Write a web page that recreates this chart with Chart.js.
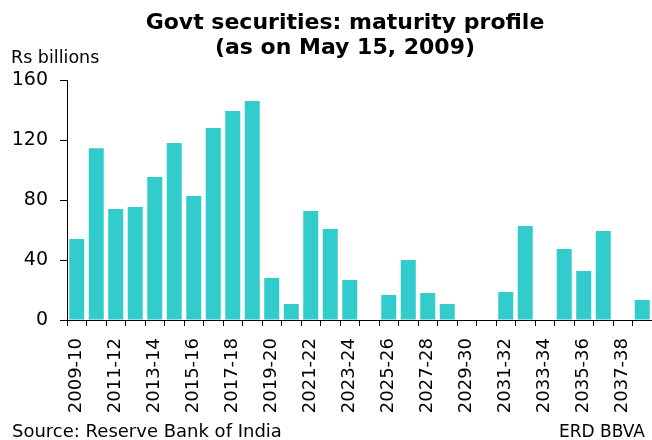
<!DOCTYPE html>
<html>
<head>
<meta charset="utf-8">
<script src="https://cdn.jsdelivr.net/npm/chart.js@4"></script>
<style>
html, body { margin: 0; padding: 0; background: #fff; }
</style>
</head>
<body>
<canvas id="maturityChart" width="652" height="440"></canvas>
<script>
const years = [
    "2009-10", "2010-11", "2011-12", "2012-13", "2013-14", "2014-15",
    "2015-16", "2016-17", "2017-18", "2018-19", "2019-20", "2020-21",
    "2021-22", "2022-23", "2023-24", "2024-25", "2025-26", "2026-27",
    "2027-28", "2028-29", "2029-30", "2030-31", "2031-32", "2032-33",
    "2033-34", "2034-35", "2035-36", "2036-37", "2037-38", "2038-39"
]
const amounts = [
    54, 114.5, 74, 75.3, 95.3, 118,
    82.7, 128, 139.3, 146, 28, 10.7,
    72.7, 60.7, 26.7, 0, 16.7, 40,
    18, 10.7, 0, 0, 18.7, 62.7,
    0, 47.3, 32.7, 59.3, 0, 13.3
]
const yTicks = [0, 40, 80, 120, 160]

const titleLines = ["Govt securities: maturity profile", "(as on May 15, 2009)"]
const unitLabel = "Rs billions"
const sourceText = "Source: Reserve Bank of India"
const creditText = "ERD BBVA"

const FONT = '"DejaVu Sans", Verdana, sans-serif'

// title, unit, source and credit are drawn by hand
const annotations = {
    id: "annotations",
    afterDraw(chart){
        const c = chart.ctx
        c.save()
        c.fillStyle = "#000"
        c.textBaseline = "alphabetic"

        c.textAlign = "center"
        c.font = "bold 22px " + FONT
        c.fillText(titleLines[0], 345, 29)
        c.fillText(titleLines[1], 345, 54)

        c.textAlign = "left"
        c.font = "17.5px " + FONT
        c.fillText(unitLabel, 11, 63)

        c.font = "18px " + FONT
        c.fillText(sourceText, 12, 437)

        c.textAlign = "right"
        c.font = "17px " + FONT
        c.fillText(creditText, 645, 437)

        c.restore()
    }
}

const ctx = document.getElementById("maturityChart").getContext("2d")

const chart = new Chart(ctx, {
    type: "bar",
    data: {
        labels: years,
        datasets: [{
            data: amounts,
            backgroundColor: "#33CCCC",
            borderWidth: 0,
            categoryPercentage: 1,
            barPercentage: 0.77
        }]
    },
    options: {
        responsive: false,
        animation: false,
        layout: {
            padding: { top: 80, left: 0, right: 0, bottom: 0 }
        },
        plugins: {
            legend: { display: false },
            tooltip: { enabled: false }
        },
        scales: {
            x: {
                grid: {
                    offset: true,
                    drawOnChartArea: false,
                    color: "#000",
                    tickLength: 6
                },
                border: { color: "#000", width: 1 },
                ticks: {
                    autoSkip: false,
                    minRotation: 90,
                    maxRotation: 90,
                    padding: 12,
                    color: "#000",
                    font: { family: FONT, size: 18 },
                    callback: (val, i) => i % 2 === 0 ? years[i] : ""
                },
                afterFit(scale){
                    scale.height = 120
                    scale.paddingLeft = 0
                    scale.paddingRight = 0
                }
            },
            y: {
                min: 0,
                max: 160,
                grid: {
                    drawOnChartArea: false,
                    color: "#000",
                    tickLength: 7
                },
                border: { color: "#000", width: 1 },
                ticks: {
                    padding: 12,
                    color: "#000",
                    font: { family: FONT, size: 19 }
                },
                afterBuildTicks(scale){
                    scale.ticks = yTicks.map(v => ({ value: v }))
                },
                afterFit(scale){
                    scale.width = 67
                }
            }
        }
    },
    plugins: [annotations]
})
</script>
</body>
</html>
